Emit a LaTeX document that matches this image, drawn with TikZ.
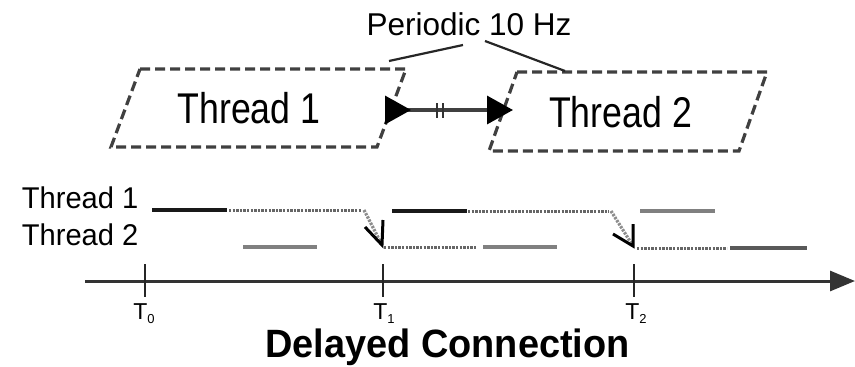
\documentclass[tikz,border=0pt]{standalone}
\usepackage{fontspec}
\setmainfont{Liberation Sans}
\usetikzlibrary{arrows.meta}
\tikzset{
  threadbox/.style={draw=black!75, line width=3.2pt, dash pattern=on 10pt off 5pt},
  solidblk/.style={draw=black!90, line width=3.2pt},
  solidgray/.style={draw=black!50, line width=4pt},
  solidmid/.style={draw=black!65, line width=3.6pt},
  dotline/.style={draw=black!60, line width=3pt, dash pattern=on 2.4pt off 1.2pt},
  handshaft/.style={draw=black!45, line width=3.2pt, dash pattern=on 2.4pt off 1.2pt},
  handhead/.style={draw=black, line width=3pt, line join=miter},
  axisline/.style={draw=black!80, line width=3pt, -{Triangle[length=25pt,width=20pt]}},
  tickline/.style={draw=black!85, line width=2.8pt},
  bigtxt/.style={font=\fontsize{43}{46}\selectfont, inner sep=0, anchor=base},
  rowtxt/.style={font=\fontsize{30}{32}\selectfont, inner sep=0, anchor=base west},
  ttxt/.style={font=\fontsize{23}{24}\selectfont, inner sep=0, anchor=base},
  pertxt/.style={font=\fontsize{28.5}{30}\selectfont, inner sep=0, anchor=base},
  conn/.style={draw=black!85, line width=2.2pt},
}
\newcommand{\tsub}[1]{T\raisebox{-4.5pt}{\fontsize{13}{14}\selectfont #1}}
\begin{document}
\begin{tikzpicture}[x=1pt,y=-1pt]
\useasboundingbox (0,0) rectangle (855,367);
% parallelogram boxes
\draw[threadbox] (140,69) -- (406,69) -- (377,147) -- (111,147) -- cycle;
\draw[threadbox] (517,72) -- (767,72) -- (739,151) -- (489,151) -- cycle;
\node[bigtxt] (t1) at (249,123.3) {\scalebox{0.83}[1]{Thread 1}};
\node[bigtxt] (t2) at (620.5,127) {\scalebox{0.83}[1]{Thread 2}};
% periodic label
\node[pertxt] (per) at (469,35) {\resizebox{205pt}{!}{Periodic 10 Hz}};
\coordinate (pl1) at (463,45);
\coordinate (pl2) at (389,61);
\coordinate (pr1) at (485,41);
\coordinate (pr2) at (565,71);
\draw[conn] (pl1) -- (pl2);
\draw[conn] (pr1) -- (pr2);
% connection arrow
\coordinate (ca) at (385,110);
\coordinate (cb) at (513,110);
\draw[draw=black!75, line width=3.4pt, {Triangle[reversed,length=26pt,width=28pt,color=black]}-{Triangle[length=26pt,width=28pt,color=black]}] (ca) -- (cb);
\draw[draw=black!80, line width=1.8pt] (437,103) -- (437,118) (443,103) -- (443,118);
% row labels
\node[rowtxt] (r1) at (21.7,208.3) {\scalebox{0.97}[1]{Thread 1}};
\node[rowtxt] (r2) at (21.7,245) {\scalebox{0.97}[1]{Thread 2}};
% thread 1 timeline
\draw[solidblk] (152,210) -- (227,210);
\draw[dotline] (229,210) -- (361,210);
\coordinate (h1s) at (364,210);
\coordinate (h1t) at (382,245);
\draw[handshaft] (h1s) -- (h1t);
\draw[handhead] (365,227) -- (h1t) -- (383,220);
\draw[solidblk] (392,211) -- (467,211);
\draw[dotline] (468,211) -- (609,211);
\coordinate (h2s) at (611,211);
\coordinate (h2t) at (633,246);
\draw[handshaft] (h2s) -- (h2t);
\draw[handhead] (613,234) -- (h2t) -- (633,224);
\draw[solidgray] (640,211) -- (715,211);
% thread 2 timeline
\draw[solidgray] (243,247) -- (317,247);
\draw[dotline] (384,247) -- (477,247);
\draw[solidgray] (483,247) -- (557,247);
\draw[dotline] (637,248) -- (727,248);
\draw[solidmid] (730,248) -- (807,248);
% axis
\coordinate (ax0) at (85,281);
\coordinate (ax1) at (855,281);
\draw[axisline] (ax0) -- (ax1);
\draw[tickline] (145,264) -- (145,297);
\draw[tickline] (383,264) -- (383,297);
\draw[tickline] (634,264) -- (634,297);
\node[ttxt] (T0) at (144,319) {\tsub{0}};
\node[ttxt] (T1) at (384,319) {\tsub{1}};
\node[ttxt] (T2) at (636,319) {\tsub{2}};
\node[font=\fontsize{39.5}{42}\selectfont\bfseries, inner sep=0, anchor=base] (dc) at (447.5,357.5) {\scalebox{0.96}[1]{Delayed Connection}};
\end{tikzpicture}
\end{document}
